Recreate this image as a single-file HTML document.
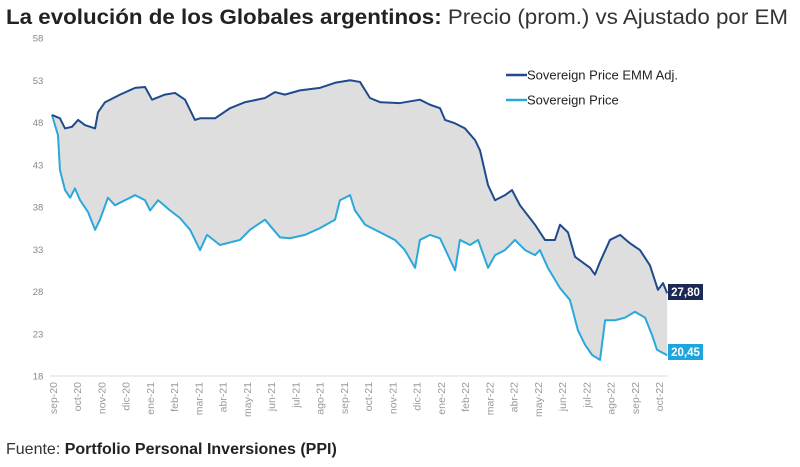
<!DOCTYPE html>
<html><head><meta charset="utf-8"><style>
body{margin:0;background:#fff;width:800px;height:467px;overflow:hidden;font-family:"Liberation Sans",sans-serif}
</style></head><body>
<svg width="800" height="467" style="position:absolute;left:0;top:0">
<text x="6" y="24" font-size="21" fill="#222" textLength="782" lengthAdjust="spacingAndGlyphs"><tspan font-weight="bold">La evolución de los Globales argentinos:</tspan><tspan fill="#333"> Precio (prom.) vs Ajustado por EM</tspan></text>
<g id="yaxis"></g>
<g id="xaxis"></g>
<line x1="50" y1="376" x2="668" y2="376" stroke="#e2e2e2" stroke-width="1.2"/>
<g id="plot"></g>
<g>
<g><line x1="506" y1="75" x2="527" y2="75" stroke="#1f4a8c" stroke-width="2.5"/><text x="527" y="79.5" font-size="13" fill="#222">Sovereign Price EMM Adj.</text></g>
<g><line x1="506" y1="100" x2="527" y2="100" stroke="#2aa8dc" stroke-width="2.5"/><text x="527" y="104.5" font-size="13" fill="#222">Sovereign Price</text></g>
</g>
<g><rect x="668" y="284" width="35" height="16" fill="#1b2a55"/><text x="685.5" y="296" font-size="11.5" fill="#fff" text-anchor="middle" font-weight="bold">27,80</text></g>
<g><rect x="668" y="344" width="35" height="16" fill="#1da6dd"/><text x="685.5" y="356" font-size="11.5" fill="#fff" text-anchor="middle" font-weight="bold">20,45</text></g>
<text x="6" y="454" font-size="16" fill="#333">Fuente: <tspan font-weight="bold" fill="#222">Portfolio Personal Inversiones (PPI)</tspan></text>
</svg>
<script>
const yTicks=[18,23,28,33,38,43,48,53,58];
const monthLabels=["sep-20","oct-20","nov-20","dic-20","ene-21","feb-21","mar-21","abr-21","may-21","jun-21","jul-21","ago-21","sep-21","oct-21","nov-21","dic-21","ene-22","feb-22","mar-22","abr-22","may-22","jun-22","jul-22","ago-22","sep-22","oct-22"];
const adjT=[-0.25,0.08,0.29,0.58,0.83,1.11,1.53,1.65,1.94,2.56,3.18,3.59,3.88,4.41,4.83,5.24,5.65,5.86,6.48,7.10,7.71,8.54,8.95,9.36,9.98,10.81,11.43,12.05,12.46,12.87,13.29,14.11,14.93,15.35,15.76,15.97,16.38,16.79,17.21,17.41,17.74,18.03,18.44,18.73,19.06,19.68,20.09,20.50,20.71,21.04,21.33,21.95,22.15,22.36,22.77,23.19,23.60,24.01,24.42,24.75,24.96,25.13];
const adjV=[48.9,48.5,47.3,47.5,48.3,47.7,47.3,49.2,50.4,51.3,52.1,52.2,50.7,51.3,51.5,50.7,48.3,48.5,48.5,49.7,50.4,50.9,51.6,51.3,51.8,52.1,52.7,53.0,52.8,50.9,50.4,50.3,50.7,50.1,49.7,48.3,47.9,47.3,45.9,44.7,40.6,38.8,39.4,40.0,38.2,35.9,34.1,34.1,35.9,35.0,32.1,30.8,30.0,31.5,34.1,34.7,33.7,32.9,31.1,28.2,29.0,27.8];
const priceT=[-0.25,0,0.08,0.29,0.50,0.70,0.91,1.24,1.53,1.73,2.06,2.35,2.76,3.18,3.59,3.80,4.13,4.62,5.03,5.45,5.86,6.15,6.68,7.51,7.92,8.54,9.16,9.57,10.19,10.81,11.43,11.63,12.05,12.25,12.67,13.29,13.90,14.31,14.73,14.93,15.35,15.76,16.38,16.58,17.00,17.33,17.74,18.03,18.44,18.85,19.27,19.68,19.88,20.21,20.71,21.12,21.45,21.74,22.03,22.36,22.57,22.98,23.39,23.80,24.22,24.50,24.71,25.13];
const priceV=[48.9,46.5,42.4,40.0,39.1,40.2,38.8,37.4,35.3,36.5,39.1,38.2,38.8,39.4,38.8,37.6,38.8,37.6,36.7,35.3,32.9,34.7,33.5,34.1,35.3,36.5,34.4,34.3,34.7,35.5,36.5,38.8,39.4,37.6,35.9,35.0,34.1,32.9,30.8,34.1,34.7,34.3,30.5,34.1,33.5,34.1,30.8,32.3,32.9,34.1,32.9,32.3,32.9,30.8,28.4,27.0,23.4,21.7,20.5,19.9,24.6,24.6,24.9,25.6,24.9,22.9,21.1,20.45];
const NS="http://www.w3.org/2000/svg";
function X(t){return 58+24.24*t;}
function Y(v){return 376-(v-18)*8.45;}
const ya=document.getElementById('yaxis'),xa=document.getElementById('xaxis'),pl=document.getElementById('plot');
yTicks.forEach(v=>{const t=document.createElementNS(NS,'text');


t.setAttribute('x',38);t.setAttribute('y',Y(v)+3.5);t.setAttribute('font-size','9.5');t.setAttribute('fill','#888');t.setAttribute('text-anchor','middle');t.textContent=v;ya.appendChild(t);});
monthLabels.forEach((m,i)=>{const t=document.createElementNS(NS,'text');


const x=X(i)-1;t.setAttribute('transform','translate('+x+',382) rotate(-90)');t.setAttribute('font-size','10.5');t.setAttribute('fill','#999');t.setAttribute('text-anchor','end');t.textContent=m;xa.appendChild(t);});
const a=adjT.map((t,i)=>[X(t),Y(adjV[i])]),p=priceT.map((t,i)=>[X(t),Y(priceV[i])]);
const fill=document.createElementNS(NS,'polygon');


fill.setAttribute('points',a.concat(p.slice().reverse()).map(q=>q.join(',')).join(' '));fill.setAttribute('fill','#dedede');pl.appendChild(fill);
function line(pts,c,name){const l=document.createElementNS(NS,'polyline');l.setAttribute('points',pts.map(q=>q.join(',')).join(' '));l.setAttribute('fill','none');l.setAttribute('stroke',c);l.setAttribute('stroke-width','2');l.setAttribute('stroke-linejoin','round');


pl.appendChild(l);}
line(p,'#2aa8dc','series-sovereign-price');
line(a,'#1f4a8c','series-emm-adj');
</script>
</body></html>
